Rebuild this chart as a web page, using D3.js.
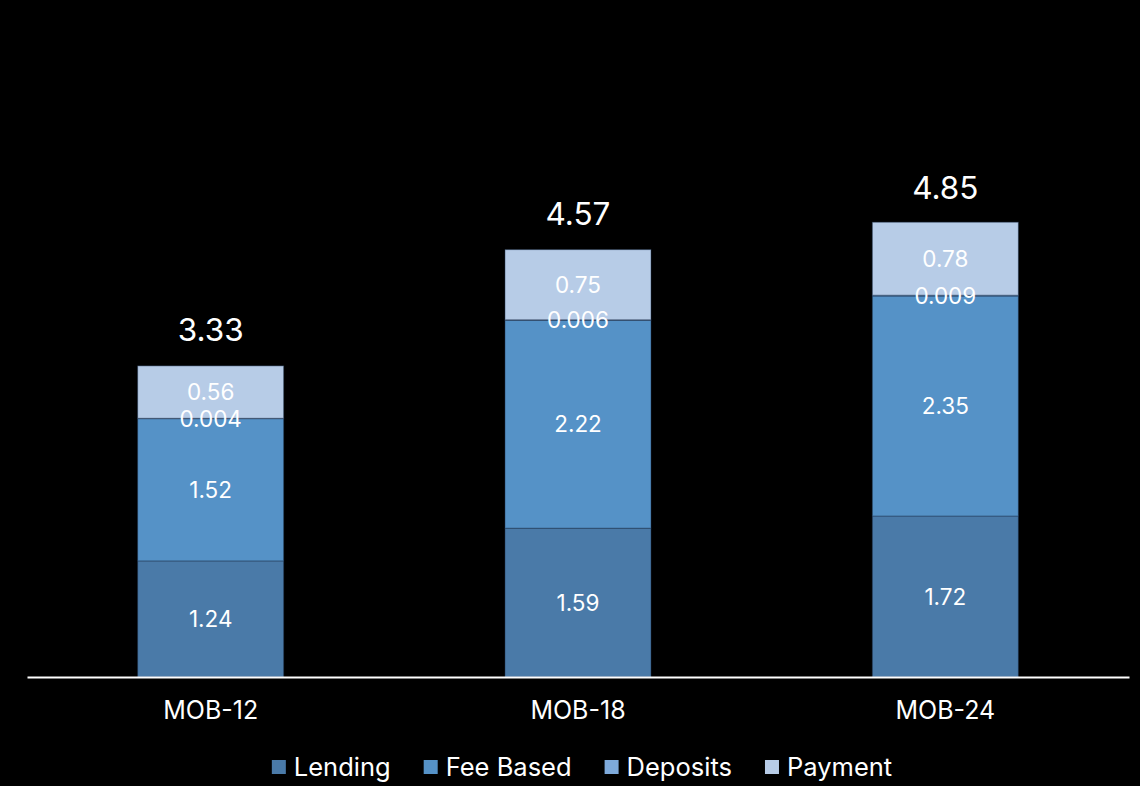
<!DOCTYPE html>
<html>
<head>
<meta charset="utf-8">
<script src="https://cdn.jsdelivr.net/npm/d3@7"></script>
<style>
  html, body { margin: 0; padding: 0; background: #000; }
  svg { display: block; font-family: Inter, "Noto Sans", sans-serif; }
</style>
</head>
<body>
<svg width="1140" height="786"></svg>
<script>
var categories = ["MOB-12", "MOB-18", "MOB-24"];
var seriesNames = ["Lending", "Fee Based", "Deposits", "Payment"];
var lending = [1.24, 1.59, 1.72];
var feeBased = [1.52, 2.22, 2.35];
var deposits = [0.004, 0.006, 0.009];
var payment = [0.56, 0.75, 0.78];
var totals = [3.33, 4.57, 4.85];
var colors = ["#4a7aa8", "#5592c7", "#7eaadb", "#b7cce7"];

var svg = d3.select("svg"),
    left = 27, right = 1129,
    baseline = 677;

var rows = categories.map(function(c, i) {
  return { cat: c, "Lending": lending[i], "Fee Based": feeBased[i],
           "Deposits": deposits[i], "Payment": payment[i], total: totals[i] };
});

var stack = d3.stack().keys(seriesNames)(rows);

var xScale = d3.scaleBand().domain(categories).range([left, right])
    .paddingInner(0.6025).paddingOuter(0.30125);
var yScale = d3.scaleLinear().domain([0, 5]).range([baseline, baseline - 5 * 93.6]);

var color = d3.scaleOrdinal().domain(seriesNames).range(colors);

// bars
var layers = svg.append("g").selectAll("g")
  .data(stack).enter().append("g")
  .attr("fill", function(d) { return color(d.key); });

layers.selectAll("rect")
  .data(function(d) { return d; })
  .enter().append("rect")
  .attr("x", function(d) { return xScale(d.data.cat); })
  .attr("y", function(d) { return yScale(d[1]); })
  .attr("width", xScale.bandwidth())
  .attr("height", function(d) { return yScale(d[0]) - yScale(d[1]); })
  .attr("stroke", "rgba(30,50,80,0.45)")
  .attr("stroke-width", 1);

// segment labels
stack.forEach(function(layer) {
  svg.append("g").selectAll("text")
    .data(layer).enter().append("text")
    .attr("x", function(d) { return xScale(d.data.cat) + xScale.bandwidth() / 2; })
    .attr("y", function(d) { return (yScale(d[0]) + yScale(d[1])) / 2; })
    .attr("dy", "0.36em")
    .attr("text-anchor", "middle")
    .attr("font-size", "22.5px")
    .attr("fill", "#fff")
    .text(function(d) { return d.data[layer.key]; });
});

// totals
svg.append("g").selectAll("text")
  .data(rows).enter().append("text")
  .attr("x", function(d) { return xScale(d.cat) + xScale.bandwidth() / 2; })
  .attr("y", function(d) { return yScale(d.total) - 24; })
  .attr("text-anchor", "middle")
  .attr("font-size", "31.5px")
  .attr("fill", "#fff")
  .text(function(d) { return d.total.toFixed(2); });

// x axis
var xAxis = svg.append("g")
  .attr("transform", "translate(0," + baseline + ")")
  .call(d3.axisBottom(xScale).tickSize(0).tickPadding(24));
xAxis.select(".domain").attr("stroke", "#fff").attr("stroke-width", 2);
xAxis.selectAll("text")
  .attr("font-size", "25px")
  .attr("font-family", "Inter, sans-serif")
  .attr("fill", "#fff");

// legend
var legend = svg.append("g");
var lx = 0;
seriesNames.forEach(function(name, i) {
  var item = legend.append("g").attr("transform", "translate(" + lx + ",0)");
  item.append("rect").attr("x", 0).attr("y", -7).attr("width", 14).attr("height", 14)
    .attr("fill", colors[i]);
  var t = item.append("text").attr("x", 22).attr("dy", "0.36em")
    .attr("font-size", "25.5px").attr("fill", "#fff").text(name);
  lx += 22 + t.node().getComputedTextLength() + 33;
});
var lw = lx - 33;
legend.attr("transform", "translate(" + (582 - lw / 2) + ",767)");
</script>
</body>
</html>
